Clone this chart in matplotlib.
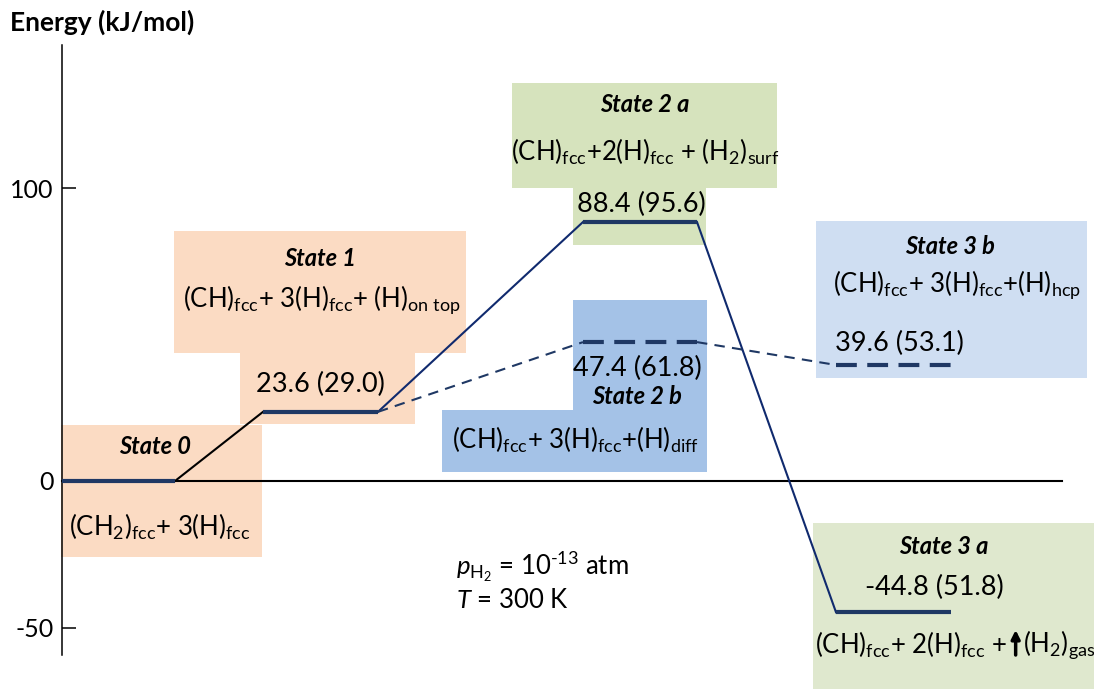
import matplotlib.pyplot as plt

# energies (kJ/mol) of each state, and the values in brackets
states = ['State 0', 'State 1', 'State 2 a', 'State 2 b', 'State 3 b', 'State 3 a']
energies = [0.0, 23.6, 88.4, 47.4, 39.6, -44.8]
bracket_values = [None, 29.0, 95.6, 61.8, 53.1, 51.8]
formulas = [
    r'(CH$_2$)$_{fcc}$+ 3(H)$_{fcc}$',
    r'(CH)$_{fcc}$+ 3(H)$_{fcc}$+ (H)$_{on\ top}$',
    r'(CH)$_{fcc}$+2(H)$_{fcc}$ + (H$_2$)$_{surf}$',
    r'(CH)$_{fcc}$+ 3(H)$_{fcc}$+(H)$_{diff}$',
    r'(CH)$_{fcc}$+ 3(H)$_{fcc}$+(H)$_{hcp}$',
    r'(CH)$_{fcc}$+ 2(H)$_{fcc}$ +',
]
yticks = [100, 0, -50]

plt.rcParams['font.family'] = ['Lato', 'DejaVu Sans']
plt.rcParams['mathtext.fontset'] = 'custom'
plt.rcParams['mathtext.rm'] = 'Lato'
plt.rcParams['mathtext.it'] = 'Lato:italic'
plt.rcParams['mathtext.bf'] = 'Lato:bold'
plt.rcParams['mathtext.default'] = 'regular'

W, H = 1094, 689
Y0, SCALE = 481, 2.93  # pixel row of 0 kJ/mol, pixels per kJ/mol


def py(p):
    # layout helper: pixel row -> energy axis units
    return (Y0 - p) / SCALE


fig = plt.figure(figsize=(W / 100, H / 100), dpi=100)
ax = fig.add_axes([0, 0, 1, 1])
ax.set_xlim(0, W)
ax.set_ylim(py(H), py(0))

for s in ['top', 'right', 'bottom']:
    ax.spines[s].set_visible(False)
ax.spines['left'].set_position(('data', 62))
ax.spines['left'].set_bounds(py(655), py(45))
ax.spines['left'].set_linewidth(1.1)
ax.set_xticks([])
ax.set_yticks(yticks)
ax.set_yticklabels([str(t) for t in yticks])
ax.tick_params(axis='y', direction='in', length=10, width=1.1, pad=6, labelsize=18)
ax.patch.set_visible(False)

peach = '#fbdbc3'
green = '#d6e3bd'
lgreen = '#dfe8ce'
blue = '#a4c2e7'
lblue = '#cfdef2'

# background boxes (pixel layout)
boxes = [
    (61, 425, 262, 557, peach),
    (174, 231, 466, 353, peach), (240, 353, 415, 424, peach),
    (512, 83, 777, 188, green), (573, 188, 706, 245, green),
    (573, 300, 707, 410, blue), (442, 410, 707, 472, blue),
    (816, 221, 1087, 378, lblue),
    (813, 523, 1094, 689, lgreen),
]
for x0, y0, x1, y1, c in boxes:
    ax.add_patch(plt.Rectangle((x0, py(y1)), x1 - x0, py(y0) - py(y1),
                               facecolor=c, edgecolor='none', zorder=1))

# zero line
ax.plot([62, 1062], [0, 0], color='black', lw=1.5, zorder=2)

# levels
level_x0 = [62, 263, 583, 583, 836, 836]
level_x1 = [175, 378, 697, 697, 952, 951]
dashed = [False, False, False, True, True, False]
navy = '#1f3864'
for i, e in enumerate(energies):
    ls = (0, (5, 2.5)) if dashed[i] else '-'
    ax.plot([level_x0[i], level_x1[i]], [e, e], color=navy, lw=3, ls=ls,
            solid_capstyle='butt', zorder=4)

# connectors
links = [(0, 1, 'black', '-'), (1, 2, '#102a6e', '-'), (2, 5, '#102a6e', '-'),
         (1, 3, '#1f3864', (0, (5, 3.5))), (3, 4, '#1f3864', (0, (5, 3.5)))]
for a, b, c, ls in links:
    ax.plot([level_x1[a], level_x0[b]], [energies[a], energies[b]],
            color=c, lw=1.5, ls=ls, zorder=3)

# text layout: (label x, label y, formula x, formula y, value x, value y)
label_pos = [(155, 446), (320, 259), (645, 105), (637, 397), (950, 247), (944, 546)]
formula_pos = [(160, 527), (322, 300), (645, 152), (575, 440), (957, 285), (815, 645)]
value_pos = [None, (320, 384), (641, 204), (637, 368), (899, 343), (934, 587)]

texts = []
for i, st in enumerate(states):
    lx, ly = label_pos[i]
    ax.text(lx, py(ly), st, fontsize=17, fontweight='bold', style='italic',
            ha='center', va='center', zorder=5)
    fx, fy = formula_pos[i]
    ha = 'left' if i == 5 else 'center'
    texts.append(ax.text(fx, py(fy), formulas[i], fontsize=18.5, ha=ha,
                         va='center', zorder=5))
    if bracket_values[i] is not None:
        vx, vy = value_pos[i]
        ax.text(vx, py(vy), f'{energies[i]:.1f} ({bracket_values[i]:.1f})',
                fontsize=19.5, ha='center', va='center', zorder=5)

# gas-phase arrow and H2 of state 3a, placed after the measured formula
fig.canvas.draw()
bb = texts[5].get_window_extent(fig.canvas.get_renderer())
x_end = ax.transData.inverted().transform((bb.x1, bb.y0))[0]
ax.annotate('', xy=(x_end + 9, py(630)), xytext=(x_end + 9, py(655)),
            arrowprops=dict(arrowstyle='-|>,head_length=0.5,head_width=0.25',
                            lw=2.5, color='black', shrinkA=0, shrinkB=0), zorder=5)
ax.text(x_end + 16, py(645), r'(H$_2$)$_{gas}$', fontsize=18.5, ha='left',
        va='center', zorder=5)

# conditions
ax.text(456, py(567), r'$\mathit{p}_{\mathrm{H_2}}$ = 10$^{\text{-13}}$ atm', fontsize=18.5,
        ha='left', va='center', zorder=5)
ax.text(456, py(600), r'$\mathit{T}$ = 300 K', fontsize=18.5, ha='left', va='center', zorder=5)

# axis title
ax.text(10, py(22), 'Energy (kJ/mol)', fontsize=19, fontweight='bold',
        ha='left', va='center', zorder=5)

fig.savefig('out.png', dpi=100)
